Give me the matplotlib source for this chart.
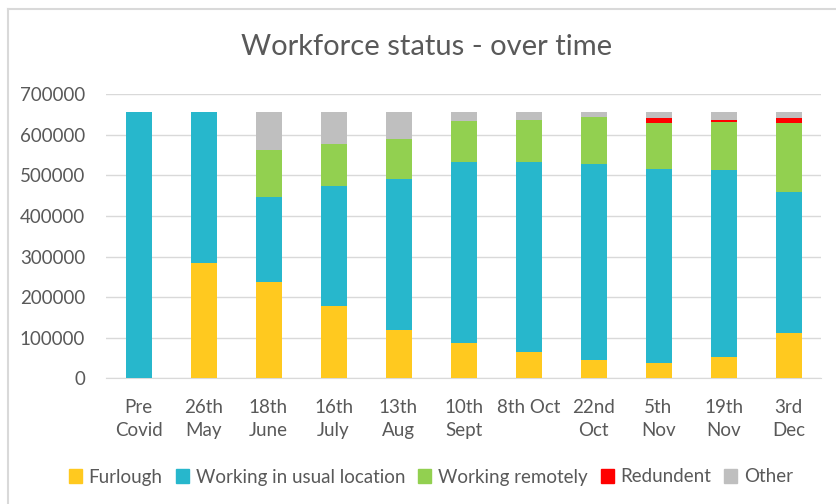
import numpy as np
import matplotlib
matplotlib.use('Agg')
import matplotlib.pyplot as plt
from matplotlib.lines import Line2D

plt.rcParams['font.family'] = ['Lato', 'DejaVu Sans']

# data
dates = ['Pre\nCovid', '26th\nMay', '18th\nJune', '16th\nJuly', '13th\nAug', '10th\nSept',
         '8th Oct', '22nd\nOct', '5th\nNov', '19th\nNov', '3rd\nDec']
furlough = [0, 285000, 238000, 178000, 120000, 87000, 65000, 45000, 37000, 53000, 112000]
usual_location = [657000, 372000, 210000, 295000, 372000, 446000, 468000, 482000, 480000, 460000, 347000]
remote = [0, 0, 115000, 104000, 99000, 102000, 104000, 116000, 112000, 118000, 170000]
redundant = [0, 0, 0, 0, 0, 0, 0, 0, 12000, 6000, 12000]
other = [0, 0, 94000, 80000, 66000, 22000, 20000, 14000, 16000, 20000, 16000]

series = [furlough, usual_location, remote, redundant, other]
names = ['Furlough', 'Working in usual location', 'Working remotely', 'Redundent', 'Other']
colors = ['#FFC91F', '#27B7CC', '#92D050', '#FF0000', '#BFBFBF']

text_col = '#595959'
grid_col = '#D9D9D9'

fig = plt.figure(figsize=(8.36, 5.04), dpi=100)
ax = fig.add_axes([106/836, 1-378.3/504, 715/836, 284/504])

x = np.arange(len(dates))
bottom = np.zeros(len(dates))
for vals, name, c in zip(series, names, colors):
    ax.bar(x, vals, width=0.4, bottom=bottom, color=c, label=name, zorder=3)
    bottom += np.array(vals)

ax.set_xlim(-0.5, len(dates) - 0.5)
ax.set_ylim(0, 700000)
ax.set_yticks(range(0, 700001, 100000))
ax.set_yticklabels([str(v) for v in range(0, 700001, 100000)])
ax.set_xticks(x)
ax.set_xticklabels(dates, linespacing=1.4)

ax.grid(axis='y', color=grid_col, linewidth=1, zorder=0)
for s in ['top', 'right', 'left']:
    ax.spines[s].set_visible(False)
ax.spines['bottom'].set_color(grid_col)
ax.tick_params(axis='both', length=0, colors=text_col, labelsize=13.5)
ax.tick_params(axis='y', pad=15)
ax.tick_params(axis='x', pad=15)

fig.text(427/836, 1-47/504, 'Workforce status - over time', ha='center', va='center',
         fontsize=21, color=text_col)

handles = [plt.Rectangle((0, 0), 1, 1, color=c) for c in colors]
fig.legend(handles, names, loc='center', bbox_to_anchor=(431/836, 1-477/504), ncol=5,
           frameon=False, fontsize=13.5, labelcolor=text_col, handlelength=0.7,
           handleheight=0.7, handletextpad=0.35, columnspacing=0.7)

# chart border (top and left edge visible in the reference)
fig.add_artist(Line2D([8/836, 8/836], [0, 1-9/504], transform=fig.transFigure,
                      color=grid_col, linewidth=1.5))
fig.add_artist(Line2D([8/836, 1], [1-9/504, 1-9/504], transform=fig.transFigure,
                      color=grid_col, linewidth=1.5))

fig.savefig('out.png', dpi=100)
